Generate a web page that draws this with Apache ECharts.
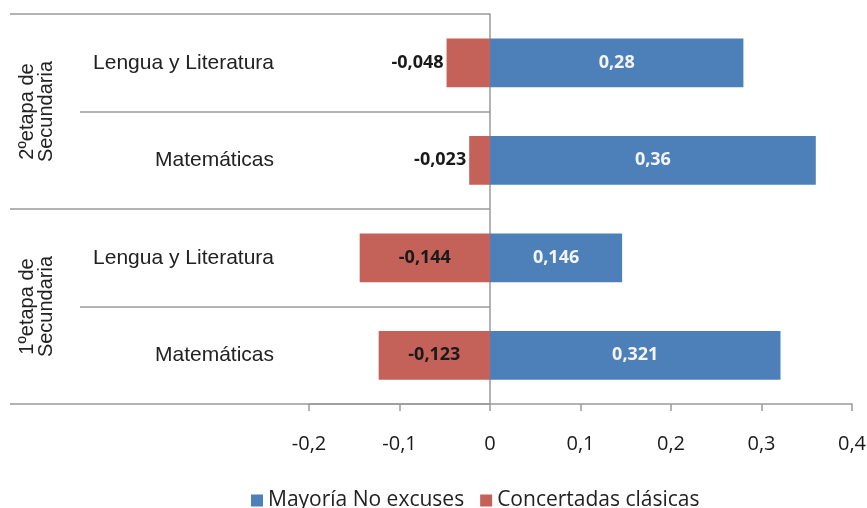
<!DOCTYPE html>
<html>
<head>
<meta charset="utf-8">
<script src="https://cdn.jsdelivr.net/npm/echarts@6/dist/echarts.min.js"></script>
<style>
  html, body { margin: 0; padding: 0; background: #fff; }
  #chart { width: 867px; height: 508px; }
</style>
</head>
<body>
<div id="chart"></div>
<script>
// top to bottom
const categories = ['Lengua y Literatura', 'Matemáticas', 'Lengua y Literatura', 'Matemáticas']
const groups = ['2ºetapa de\nSecundaria', '1ºetapa de\nSecundaria']
const noExcuses = [0.28, 0.36, 0.146, 0.321]
const concertadas = [-0.048, -0.023, -0.144, -0.123]
const xTicks = [-0.2, -0.1, 0, 0.1, 0.2, 0.3, 0.4]
const seriesNames = ['Mayoría No excuses', 'Concertadas clásicas']

const comma = v => String(v).replace('.', ',')
const lineColor = '#9a9a9a'

const chart = echarts.init(document.getElementById('chart'))
const options = {
  animation: false,
  grid: {
    left: 309,
    right: 15,
    top: 14,
    bottom: 104,
    containLabel: false,
    outerBoundsMode: 'none'
  },
  legend: {
    data: seriesNames,
    left: 246,
    top: 485,
    icon: 'rect',
    itemWidth: 12,
    itemHeight: 12,
    itemGap: 16,
    textStyle: { fontFamily: 'Open Sans', fontSize: 21, color: '#222' }
  },
  xAxis: {
    type: 'value',
    min: xTicks[0],
    max: xTicks[xTicks.length - 1],
    interval: 0.1,
    axisLine: { show: true, lineStyle: { color: lineColor, width: 1.5 } },
    axisTick: { show: true, length: 7, lineStyle: { color: lineColor, width: 1.5 } },
    splitLine: { show: false },
    axisLabel: {
      margin: 30,
      fontFamily: 'Open Sans',
      fontSize: 20,
      color: '#1a1a1a',
      formatter: v => comma(v)
    }
  },
  yAxis: [
    {
      type: 'category',
      position: 'left',
      inverse: true,
      data: categories,
      axisLine: { show: true, onZero: true, lineStyle: { color: lineColor, width: 1.5 } },
      axisTick: { show: true, interval: 0, length: 410, lineStyle: { color: lineColor, width: 1.5 } },
      axisLabel: {
        interval: 0,
        margin: 35,
        fontFamily: 'Liberation Sans',
        fontSize: 21,
        color: '#222'
      }
    },
    {
      type: 'category',
      position: 'left',
      inverse: true,
      data: groups,
      axisLine: { show: false, onZero: true, onZeroAxisIndex: 0 },
      axisTick: { show: true, interval: 0, length: 480, lineStyle: { color: lineColor, width: 1.5 } },
      axisLabel: {
        interval: 0,
        rotate: 90,
        margin: 253,
        lineHeight: 19,
        fontFamily: 'Liberation Sans',
        fontSize: 20,
        color: '#222'
      }
    }
  ],
  series: [
    {
      name: seriesNames[0],
      type: 'bar',
      stack: 'total',
      barCategoryGap: '50%',
      itemStyle: { color: '#4D80B9' },
      label: {
        show: true,
        position: 'inside',
        fontFamily: 'Open Sans',
        fontWeight: 'bold',
        fontSize: 18,
        color: '#f4f4f4',
        formatter: p => comma(p.value)
      },
      data: noExcuses
    },
    {
      name: seriesNames[1],
      type: 'bar',
      stack: 'total',
      barCategoryGap: '50%',
      itemStyle: { color: '#C4625A' },
      label: {
        show: true,
        position: 'inside',
        distance: 3,
        fontFamily: 'Open Sans',
        fontWeight: 'bold',
        fontSize: 18,
        color: '#1a1a1a',
        formatter: p => comma(p.value)
      },
      // short bars carry their label outside the end
      data: concertadas.map(v => ({
        value: v,
        label: { position: Math.abs(v) < 0.1 ? 'left' : 'inside' }
      }))
    }
  ]
}
chart.setOption(options)
window.addEventListener('resize', () => {
  chart.resize()
})
</script>
</body>
</html>
